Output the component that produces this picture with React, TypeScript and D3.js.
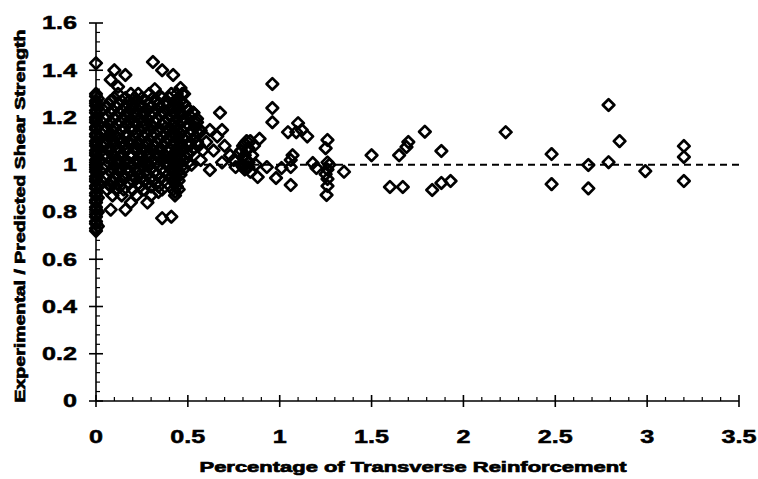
import React from "react";
import * as d3 from "d3";

// ---- data ----
const xTickLabels = ["0", "0.5", "1", "1.5", "2", "2.5", "3", "3.5"];
const yTickLabels = ["0", "0.2", "0.4", "0.6", "0.8", "1", "1.2", "1.4", "1.6"];

// specimens without transverse reinforcement (x = 0)
const zeroColumnY = [0.72, 0.73, 0.75, 0.76, 0.78, 0.79, 0.81, 0.82, 0.84, 0.85, 0.87, 0.88, 0.9, 0.91, 0.93, 0.94, 0.95, 0.97, 0.98, 0.99, 1.0, 1.01, 1.02, 1.04, 1.05, 1.06, 1.08, 1.09, 1.1, 1.12, 1.13, 1.15, 1.16, 1.18, 1.19, 1.2, 1.22, 1.23, 1.25, 1.26, 1.27, 1.29, 1.3, 1.43];
const nearZeroY = [0.74, 0.8, 0.86, 0.92, 0.96, 1.03, 1.07, 1.11, 1.17, 1.21, 1.24, 1.28];

// dense cluster, 0.05 - 0.57 % reinforcement, rows of similar ratio
const clusterRowY = [1.3, 1.27, 1.245, 1.22, 1.195, 1.17, 1.145, 1.12, 1.095, 1.07, 1.045, 1.02, 0.995, 0.97, 0.945, 0.92, 0.895, 0.87];
const clusterRowX = [
  [0.12, 0.19, 0.23, 0.29, 0.41, 0.44, 0.47],
  [0.08, 0.14, 0.18, 0.22, 0.27, 0.33, 0.38, 0.43, 0.46],
  [0.06, 0.11, 0.16, 0.2, 0.25, 0.3, 0.35, 0.42, 0.45, 0.49],
  [0.08, 0.13, 0.17, 0.21, 0.26, 0.31, 0.37, 0.43, 0.46, 0.53],
  [0.05, 0.1, 0.15, 0.19, 0.24, 0.28, 0.33, 0.39, 0.44, 0.48, 0.55],
  [0.07, 0.12, 0.17, 0.22, 0.27, 0.3, 0.36, 0.42, 0.45, 0.5],
  [0.05, 0.09, 0.14, 0.2, 0.24, 0.29, 0.34, 0.4, 0.44, 0.47, 0.52, 0.57],
  [0.07, 0.11, 0.16, 0.21, 0.26, 0.31, 0.36, 0.41, 0.45, 0.49, 0.54],
  [0.05, 0.1, 0.14, 0.18, 0.23, 0.28, 0.33, 0.38, 0.43, 0.46, 0.51, 0.55],
  [0.07, 0.12, 0.17, 0.21, 0.25, 0.3, 0.35, 0.4, 0.44, 0.48, 0.53],
  [0.05, 0.09, 0.14, 0.19, 0.24, 0.29, 0.33, 0.37, 0.42, 0.45, 0.5],
  [0.08, 0.12, 0.16, 0.22, 0.26, 0.31, 0.36, 0.41, 0.44, 0.48],
  [0.06, 0.1, 0.15, 0.2, 0.25, 0.28, 0.34, 0.39, 0.43, 0.47],
  [0.08, 0.13, 0.18, 0.22, 0.27, 0.32, 0.37, 0.42, 0.45],
  [0.05, 0.1, 0.16, 0.21, 0.25, 0.3, 0.35, 0.41, 0.44],
  [0.07, 0.12, 0.18, 0.23, 0.28, 0.33, 0.39, 0.43],
  [0.06, 0.11, 0.15, 0.2, 0.26, 0.36, 0.42, 0.45],
  [0.09, 0.14, 0.22, 0.3, 0.43],
];
// second group of specimens in the same cluster (between the rows above)
const clusterRow2Y = [1.283, 1.258, 1.232, 1.208, 1.182, 1.158, 1.132, 1.108, 1.082, 1.058, 1.032, 1.008, 0.983, 0.958, 0.932, 0.908];
const clusterRow2X = [
  [0.1, 0.16, 0.21, 0.25, 0.31, 0.36, 0.4, 0.45],
  [0.07, 0.12, 0.2, 0.24, 0.29, 0.34, 0.39, 0.44, 0.48],
  [0.09, 0.14, 0.19, 0.23, 0.28, 0.33, 0.4, 0.44, 0.5],
  [0.06, 0.11, 0.16, 0.22, 0.26, 0.3, 0.35, 0.41, 0.46, 0.51],
  [0.08, 0.13, 0.18, 0.21, 0.25, 0.32, 0.37, 0.43, 0.47, 0.53],
  [0.06, 0.1, 0.15, 0.19, 0.26, 0.31, 0.38, 0.43, 0.49, 0.54],
  [0.08, 0.12, 0.17, 0.22, 0.27, 0.32, 0.38, 0.42, 0.46, 0.51, 0.56],
  [0.06, 0.09, 0.13, 0.19, 0.24, 0.29, 0.34, 0.39, 0.44, 0.48, 0.53],
  [0.05, 0.1, 0.15, 0.19, 0.23, 0.28, 0.32, 0.37, 0.42, 0.46, 0.51, 0.56],
  [0.07, 0.11, 0.16, 0.22, 0.27, 0.31, 0.35, 0.39, 0.44, 0.47, 0.52],
  [0.06, 0.1, 0.14, 0.19, 0.24, 0.28, 0.34, 0.38, 0.43, 0.46, 0.49],
  [0.07, 0.11, 0.18, 0.23, 0.28, 0.33, 0.38, 0.42, 0.46, 0.5],
  [0.09, 0.13, 0.17, 0.23, 0.3, 0.36, 0.41, 0.44, 0.48],
  [0.06, 0.11, 0.15, 0.2, 0.24, 0.28, 0.33, 0.39, 0.43, 0.46],
  [0.09, 0.14, 0.2, 0.26, 0.31, 0.37, 0.42, 0.45],
  [0.08, 0.13, 0.24, 0.3, 0.34, 0.44],
];

// isolated specimens [percentage, ratio]
const scatterPoints: [number, number][] = [
  [0.1, 1.4], [0.16, 1.38], [0.08, 1.36], [0.12, 1.33], [0.31, 1.435], [0.36, 1.4], [0.42, 1.38], [0.46, 1.325], [0.48, 1.3], [0.32, 1.32], [0.35, 1.29],
  [0.08, 0.81], [0.16, 0.81], [0.19, 0.84], [0.28, 0.84], [0.34, 0.885], [0.43, 0.885], [0.36, 0.774], [0.41, 0.78],
  [0.53, 1.22], [0.55, 1.18], [0.675, 1.22], [0.62, 1.147], [0.686, 1.147], [0.55, 1.096], [0.6, 1.096], [0.64, 1.06], [0.58, 1.06], [0.62, 0.978], [0.686, 1.01], [0.57, 1.02], [0.66, 1.12], [0.7, 1.08], [0.73, 1.04], [0.75, 1.02], [0.78, 1.05], [0.79, 1.0], [0.8, 1.08], [0.8, 1.03], [0.81, 0.98], [0.82, 1.06], [0.82, 1.1], [0.83, 1.01], [0.84, 0.97], [0.85, 1.04], [0.86, 1.08], [0.87, 1.0], [0.84, 1.1], [0.89, 1.11], [0.88, 0.948], [0.76, 0.99], [0.52, 1.0], [0.5, 1.05], [0.56, 1.15],
  [0.8, 1.0], [0.81, 1.04], [0.82, 1.02], [0.8, 0.99], [0.83, 1.07], [0.79, 1.06], [0.81, 1.09], [0.83, 0.99],
  [0.96, 1.342], [0.96, 1.24], [0.96, 1.18], [1.045, 1.138], [1.1, 1.176], [1.12, 1.147], [1.15, 1.12], [1.09, 1.138], [1.26, 1.105], [1.25, 1.07], [1.07, 1.04], [1.06, 1.02], [1.06, 0.99], [1.01, 0.986], [0.98, 0.944], [0.93, 0.99], [1.06, 0.914], [1.18, 1.007], [1.2, 0.986], [1.26, 1.01], [1.26, 0.98], [1.26, 0.94], [1.255, 0.872], [1.27, 1.0], [1.25, 0.96], [1.26, 0.91], [1.35, 0.97],
  [1.5, 1.04], [1.6, 0.906], [1.67, 0.906], [1.65, 1.04], [1.69, 1.075], [1.7, 1.096], [1.79, 1.14], [1.88, 1.058], [1.83, 0.893], [1.88, 0.923], [1.93, 0.931], [2.23, 1.138], [2.48, 1.045], [2.48, 0.918], [2.68, 0.999], [2.68, 0.9], [2.79, 1.253], [2.79, 1.011], [2.85, 1.1], [2.99, 0.973], [3.2, 1.079], [3.2, 1.033], [3.2, 0.931],
];

const xTitle = "Percentage of Transverse Reinforcement";
const yTitle = "Experimental / Predicted Shear Strength";

export default function App() {
  const W = 758, H = 479;
  const x = d3.scaleLinear().domain([0, 3.5]).range([96, 739]);
  const y = d3.scaleLinear().domain([0, 1.6]).range([401, 23]);

  const points: [number, number][] = [];
  zeroColumnY.forEach((v) => points.push([0, v]));
  nearZeroY.forEach((v) => points.push([0.01, v]));
  clusterRowY.forEach((ry, i) => clusterRowX[i].forEach((cx) => points.push([cx, ry])));
  clusterRow2Y.forEach((ry, i) => clusterRow2X[i].forEach((cx) => points.push([cx, ry])));
  scatterPoints.forEach((p) => points.push(p));

  const r = 5.8;
  const diamond = (cx: number, cy: number) =>
    `M${cx},${cy - r}L${cx + r},${cy}L${cx},${cy + r}L${cx - r},${cy}Z`;

  const x0 = x(0), y0 = y(0);
  const xMajor = d3.range(0, 3.5001, 0.5);
  const xMinor = d3.range(0, 3.5001, 0.1).filter((v) => Math.abs(v / 0.5 - Math.round(v / 0.5)) > 1e-6);
  const yMajor = d3.range(0, 1.6001, 0.2);
  const yMinor = d3.range(0, 1.6001, 0.04).filter((v) => Math.abs(v / 0.2 - Math.round(v / 0.2)) > 1e-6);

  const font = "'Liberation Sans', Arial, sans-serif";

  return (
    <svg width={W} height={H} style={{ position: "absolute", left: 0, top: 0, background: "#fff" }}>
      <rect width={W} height={H} fill="#fff" />
      {/* reference line */}
      <line x1={x(0)} x2={x(3.5)} y1={y(1)} y2={y(1)} stroke="#000" strokeWidth={2} strokeDasharray="7,5" />
      {/* axes */}
      <g stroke="#000" strokeWidth={1.6}>
        <line x1={x0} x2={x0} y1={y(1.6)} y2={y0} />
        <line x1={x0} x2={x(3.5)} y1={y0} y2={y0} />
        {yMajor.map((v, i) => (
          <line key={"ym" + i} x1={x0 - 7} x2={x0 + 7} y1={y(v)} y2={y(v)} />
        ))}
        {yMinor.map((v, i) => (
          <line key={"yn" + i} x1={x0} x2={x0 + 4} y1={y(v)} y2={y(v)} strokeWidth={1.2} />
        ))}
        {xMajor.map((v, i) => (
          <line key={"xm" + i} x1={x(v)} x2={x(v)} y1={y0 - 6} y2={y0 + 6} />
        ))}
        {xMinor.map((v, i) => (
          <line key={"xn" + i} x1={x(v)} x2={x(v)} y1={y0 - 4} y2={y0} strokeWidth={1.2} />
        ))}
      </g>
      {/* points */}
      <g fill="none" stroke="#000" strokeWidth={2.7} strokeLinejoin="round">
        {points.map((p, i) => (
          <path key={i} d={diamond(x(p[0]), y(p[1]))} />
        ))}
      </g>
      {/* tick labels */}
      <g fontFamily={font} fontWeight="bold" fontSize={18} fill="#000" stroke="#000" strokeWidth={0.5}>
        {yTickLabels.map((t, i) => (
          <text key={"yl" + i} transform={`translate(77,${y(yMajor[i])}) scale(1.4,1)`} textAnchor="end" dy="0.35em">
            {t}
          </text>
        ))}
        {xTickLabels.map((t, i) => (
          <text key={"xl" + i} transform={`translate(${x(xMajor[i])},443) scale(1.4,1)`} textAnchor="middle">
            {t}
          </text>
        ))}
      </g>
      {/* axis titles */}
      <text x={413} y={472} fontFamily={font} fontWeight="bold" fontSize={15} textAnchor="middle" textLength={427} lengthAdjust="spacingAndGlyphs" stroke="#000" strokeWidth={0.7}>
        {xTitle}
      </text>
      <text transform={`translate(25,216) rotate(-90)`} fontFamily={font} fontWeight="bold" fontSize={14} textAnchor="middle" textLength={373} lengthAdjust="spacingAndGlyphs" stroke="#000" strokeWidth={0.7}>
        {yTitle}
      </text>
    </svg>
  );
}
